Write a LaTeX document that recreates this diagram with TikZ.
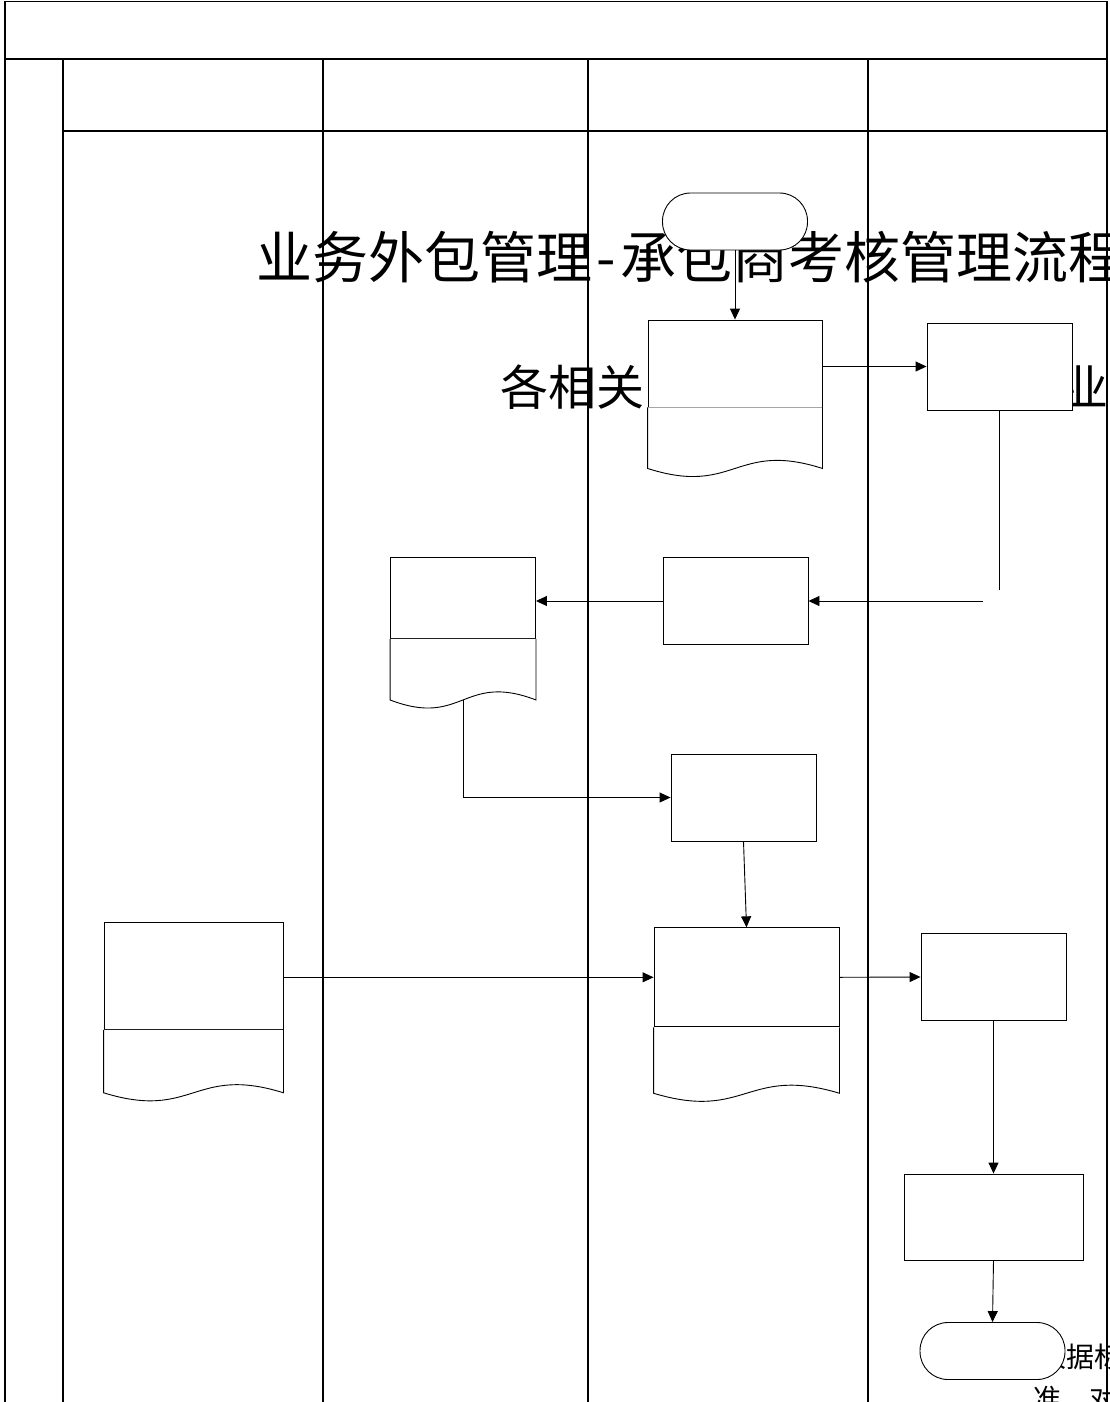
\documentclass[tikz,border=0pt]{standalone}
\usepackage{fontspec}
\newfontfamily\cjk{Noto Sans CJK SC}
\usetikzlibrary{arrows.meta,positioning,calc}

\tikzset{
  lane/.style={line width=1.2pt},
  procbox/.style={draw, fill=white, line width=0.9pt, minimum width=145pt, minimum height=87pt, inner sep=0pt},
  docbox/.style={draw, fill=white, line width=0.9pt, inner sep=0pt},
  termbox/.style={draw, fill=white, line width=0.9pt, rounded corners=28pt, minimum width=145pt, minimum height=57pt, inner sep=0pt},
  flow/.style={line width=0.9pt, -{Triangle[length=11pt,width=10pt]}},
  bigtext/.style={anchor=base west, inner sep=0pt, font=\cjk\fontsize{#1}{#1}\selectfont},
}

% wavy lower part of a document node: #1 node, #2 height
\newcommand{\docfoot}[2]{%
  \draw[line width=0.9pt, fill=white] (#1.south west) -- ++(0,#2)
    .. controls ($(#1.south)+(0,#2+28)$) and ($(#1.south)+(0,#2-28)$) .. ($(#1.south east)+(0,#2)$)
    coordinate[pos=0.5] (#1-w) -- (#1.south east);
}

\begin{document}
\begin{tikzpicture}[x=1pt, y=-1pt]
  \useasboundingbox (0,0) rectangle (1109,1402);
  \clip (0,0) rectangle (1109,1402);

  % Swimlane frame
  \draw[lane] (5,1.5) -- (1107,1.5);
  \draw[line width=2.2pt] (5,59) -- (1107,59);
  \draw[lane] (63,131) -- (1107,131);
  \draw[lane] (5,1.5) -- (5,1402);
  \draw[lane] (1107,1.5) -- (1107,1402);
  \foreach \xl in {63,323,588,868}
    \draw[lane] (\xl,59) -- (\xl,1402);

  % Texts lying under the shapes
  \node[bigtext=56] (title) at (256,278) {业务外包管理\makebox[28pt]{-}承包商考核管理流程};
  \node[bigtext=48] (deptA) at (500,405) {各相关};
  \node[bigtext=48] (deptB) at (1060,405) {业务};
  \node[bigtext=28] (noteA) at (1038,1367) {根据标};
  \node[bigtext=28] (noteB) at (1033,1409) {准，对};

  % Flow shapes
  \node[termbox] (start) at (735,221.5) {};
  \node[docbox, minimum width=174pt, minimum height=87pt] (plan) at (735,363.5) {};
  \docfoot{plan}{61}
  \node[procbox] (notify) at (999.5,366.5) {};
  \node[procbox] (collect) at (735.5,601) {};
  \node[docbox, minimum width=145pt, minimum height=81pt] (score) at (463,598) {};
  \docfoot{score}{61}
  \node[procbox] (review) at (743.5,797.5) {};
  \node[docbox, minimum width=185pt, minimum height=99pt] (report) at (746.5,977.3) {};
  \docfoot{report}{66}
  \node[docbox, minimum width=179pt, minimum height=107pt] (record) at (193.5,975.8) {};
  \docfoot{record}{63}
  \node[procbox] (approve) at (993.5,977) {};
  \node[procbox, minimum width=179pt, minimum height=86pt] (apply) at (993.5,1217) {};
  \node[termbox] (stop) at (992.5,1351) {};

  % broken connector ends
  \coordinate (bendA) at (999.5,590);
  \coordinate (bendB) at (983,601);

  % Connectors
  \draw[flow] (start.south) -- (plan.north);
  \draw[flow] (plan.east |- notify.west) -- (notify.west);
  \draw[line width=0.9pt] (notify.south) -- (bendA);
  \draw[flow] (bendB) -- (collect.east);
  \draw[flow] (collect.west) -- (collect.west -| score.east);
  \draw[flow] (score-w) |- (review.west);
  \draw[flow] (review.south) -- (report.north);
  \draw[flow] (record.east |- report.west) -- (report.west);
  \draw[flow] (report.east) -- (approve.west);
  \draw[flow] (approve.south) -- (apply.north);
  \draw[flow] (apply.south) -- (stop.north);
\end{tikzpicture}
\end{document}
